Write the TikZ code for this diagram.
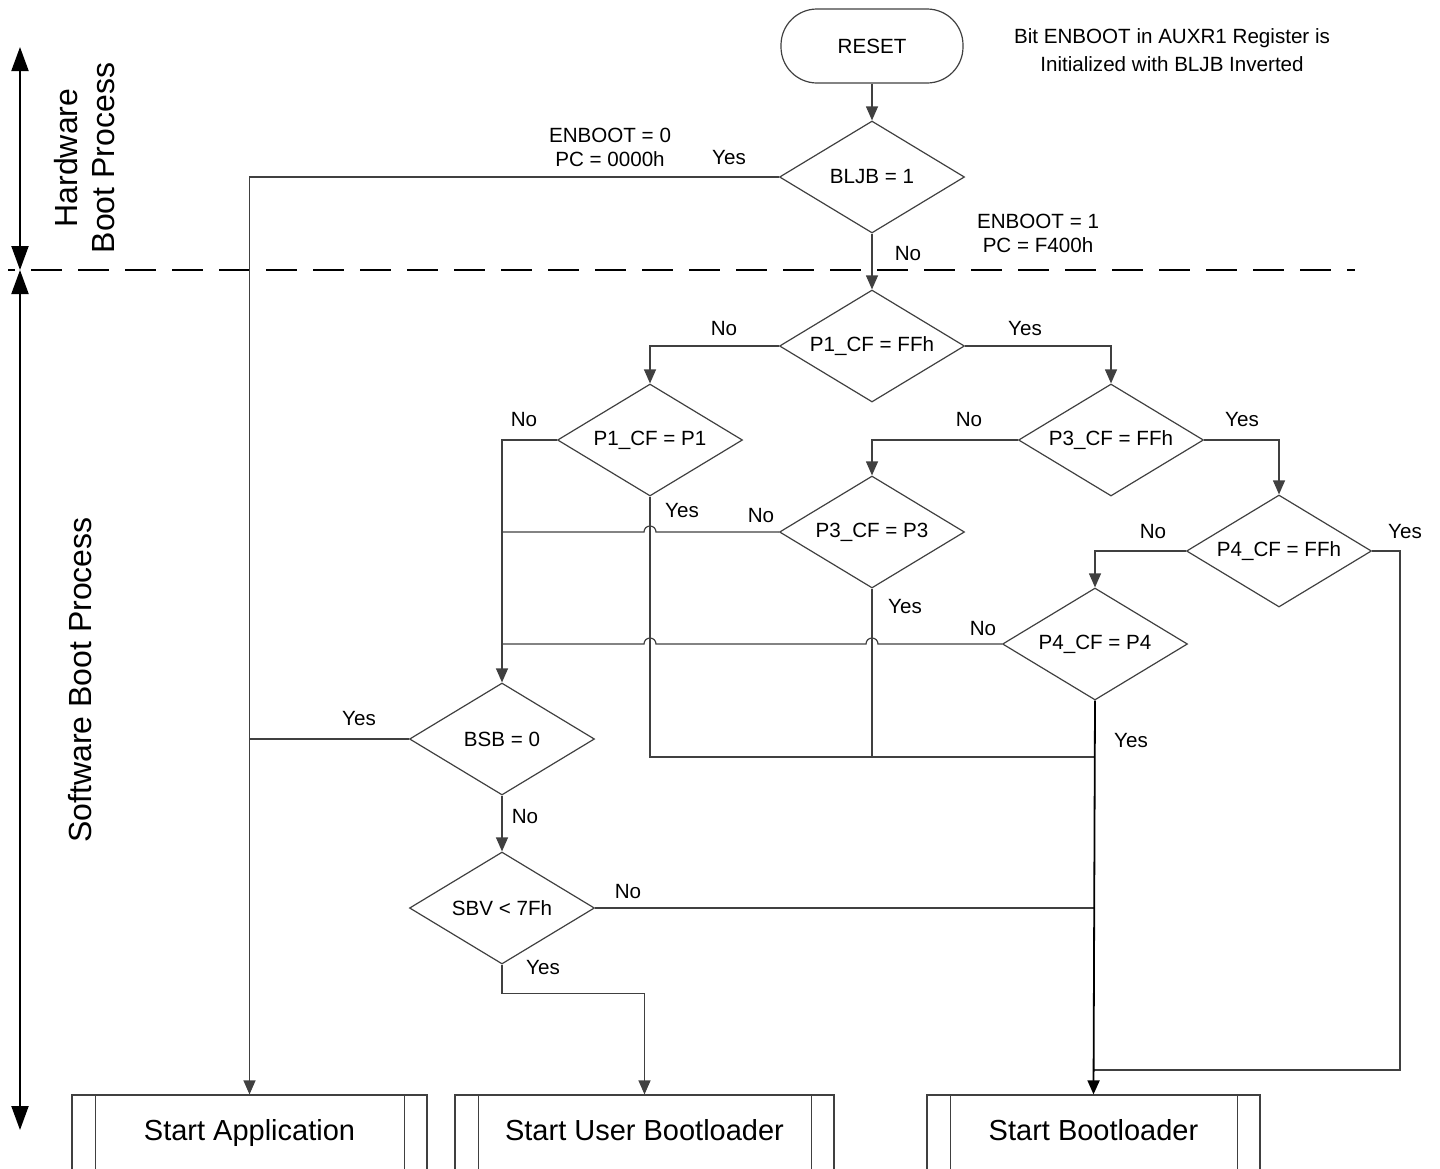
\documentclass[tikz,border=0pt]{standalone}
\usepackage{fontspec}
\setmainfont{Liberation Sans}
\usetikzlibrary{shapes.geometric,arrows.meta,calc}
\begin{document}
\begin{tikzpicture}[x=0.5pt,y=-0.5pt,
  ln/.style={line width=0.6pt, draw=black!75},
  arr/.style={ln, -{Triangle[width=6pt,length=7pt]}},
  dec/.style={diamond, shape aspect=1.65, draw=black!75, line width=0.6pt, minimum width=92.5pt, minimum height=56pt, inner sep=0pt, font=\fontsize{10.3}{12}\selectfont},
  lbl/.style={font=\fontsize{10.3}{12}\selectfont, inner sep=0pt, align=center},
  term/.style={rectangle, rounded corners=18pt, draw=black!75, line width=0.6pt, minimum width=91pt, minimum height=37pt, inner sep=0pt, font=\fontsize{10.3}{12}\selectfont},
  proc/.style={rectangle, draw=black!75, line width=0.6pt, minimum height=40pt, inner sep=0pt, text height=0.72em, text depth=0.22em, font=\fontsize{14.5}{17}\selectfont},
  side/.style={font=\fontsize{16}{18.5}\selectfont, rotate=90, align=center, inner sep=0pt},
  bigarr/.style={line width=1pt, draw=black, {Triangle[width=8.5pt,length=12pt]}-{Triangle[width=8.5pt,length=12pt]}}
]
\path[use as bounding box, clip] (0,0) rectangle (1440,1168);

% left side arrows and labels
\coordinate (ha) at (20,47);
\coordinate (hb) at (20,270);
\coordinate (sb1) at (20,1130);
\draw[bigarr] (ha) -- (hb);
\draw[bigarr] (hb) -- (sb1);
\node[side] (hw) at (85,158) {Hardware\\Boot Process};
\node[side] (sw) at (80,680) {Software Boot Process};

% dashed separator
\coordinate (d1) at (8,270);
\coordinate (d2) at (1355,270);
\draw[line width=1pt, dash pattern=on 15.5pt off 8pt, dash phase=12pt] (d1) -- (d2);

% nodes
\node[term] (reset) at (872,46) {RESET};
\node[lbl, font=\fontsize{10.3}{14}\selectfont] (note) at (1172,50) {Bit ENBOOT in AUXR1 Register is\\Initialized with BLJB Inverted};
\node[dec] (bljb) at (872,177) {BLJB = 1};
\node[dec] (p1ff) at (872,346) {P1\_CF = FFh};
\node[dec] (p1p1) at (650,440) {P1\_CF = P1};
\node[dec] (p3ff) at (1111,440) {P3\_CF = FFh};
\node[dec] (p3p3) at (872,532) {P3\_CF = P3};
\node[dec] (p4ff) at (1279,551) {P4\_CF = FFh};
\node[dec] (p4p4) at (1095,644) {P4\_CF = P4};
\node[dec] (bsb) at (502,739) {BSB = 0};
\node[dec] (sbv) at (502,908) {SBV < 7Fh};

\node[proc, minimum width=177.5pt] (sa) at (249.5,1135) {Start Application};
\node[proc, minimum width=189.5pt] (sub) at (644.5,1135) {Start User Bootloader};
\node[proc, minimum width=166.5pt] (sb) at (1093.5,1135) {Start Bootloader};
\foreach \b in {sa,sub,sb}{
  \draw[ln] ($(\b.north west)+(24,0)$) -- ($(\b.south west)+(24,0)$);
  \draw[ln] ($(\b.north east)+(-23,0)$) -- ($(\b.south east)+(-23,0)$);
}

% edge labels
\node[lbl] (e0) at (610,147) {ENBOOT = 0\\PC = 0000h};
\node[lbl] (e1) at (1038,233) {ENBOOT = 1\\PC = F400h};
\node[lbl] (l1) at (729,158) {Yes};
\node[lbl] (l2) at (908,254) {No};
\node[lbl] (l3) at (724,329) {No};
\node[lbl] (l4) at (1025,329) {Yes};
\node[lbl] (l5) at (524,420) {No};
\node[lbl] (l6) at (682,511) {Yes};
\node[lbl] (l7) at (969,420) {No};
\node[lbl] (l8) at (1242,420) {Yes};
\node[lbl] (l9) at (761,516) {No};
\node[lbl] (l10) at (905,607) {Yes};
\node[lbl] (l11) at (1153,532) {No};
\node[lbl] (l12) at (1405,532) {Yes};
\node[lbl] (l13) at (983,629) {No};
\node[lbl] (l14) at (1131,741) {Yes};
\node[lbl] (l15) at (359,719) {Yes};
\node[lbl] (l16) at (525,816) {No};
\node[lbl] (l17) at (628,891) {No};
\node[lbl] (l18) at (543,967) {Yes};

% connectors
\coordinate (y757) at (0,757);
\coordinate (rt) at (1400,1070);
\draw[arr] (reset) -- (bljb.north);
\draw[arr] (bljb.west) -| (sa.north);
\draw[arr] (bljb.south) -- (p1ff.north);
\draw[arr] (p1ff.west) -| (p1p1.north);
\draw[arr] (p1ff.east) -| (p3ff.north);
\draw[arr] (p1p1.west) -| (bsb.north);
\draw[arr] (p3ff.west) -| (p3p3.north);
\draw[arr] (p3ff.east) -| (p4ff.north);
\draw[arr] (p4ff.west) -| (p4p4.north);
\draw[ln] (p4ff.east) -| (rt) -- (sb.north |- rt);
\draw[ln] (p3p3.west) -- (656,532) arc[start angle=0,end angle=180,radius=3pt] -- (bsb.north |- p3p3.west);
\draw[ln] (p4p4.west) -- (878,644) arc[start angle=0,end angle=180,radius=3pt] -- (656,644) arc[start angle=0,end angle=180,radius=3pt] -- (bsb.north |- p4p4.west);
\draw[ln] (p1p1.south) -- (p1p1.south |- y757) -- (p4p4.south |- y757);
\draw[ln] (p3p3.south) -- (p3p3.south |- y757);
\draw[ln] (bsb.west) -- (sa.north |- bsb.west);
\draw[arr] (bsb.south) -- (sbv.north);
\draw[ln] (sbv.east) -- (sb.north |- sbv.east);
\draw[arr] (sbv.south) -- ++(0,29) -| (sub.north);
\draw[arr, line width=0.9pt, draw=black] (p4p4.south) -- (sb.north);
\end{tikzpicture}
\end{document}
